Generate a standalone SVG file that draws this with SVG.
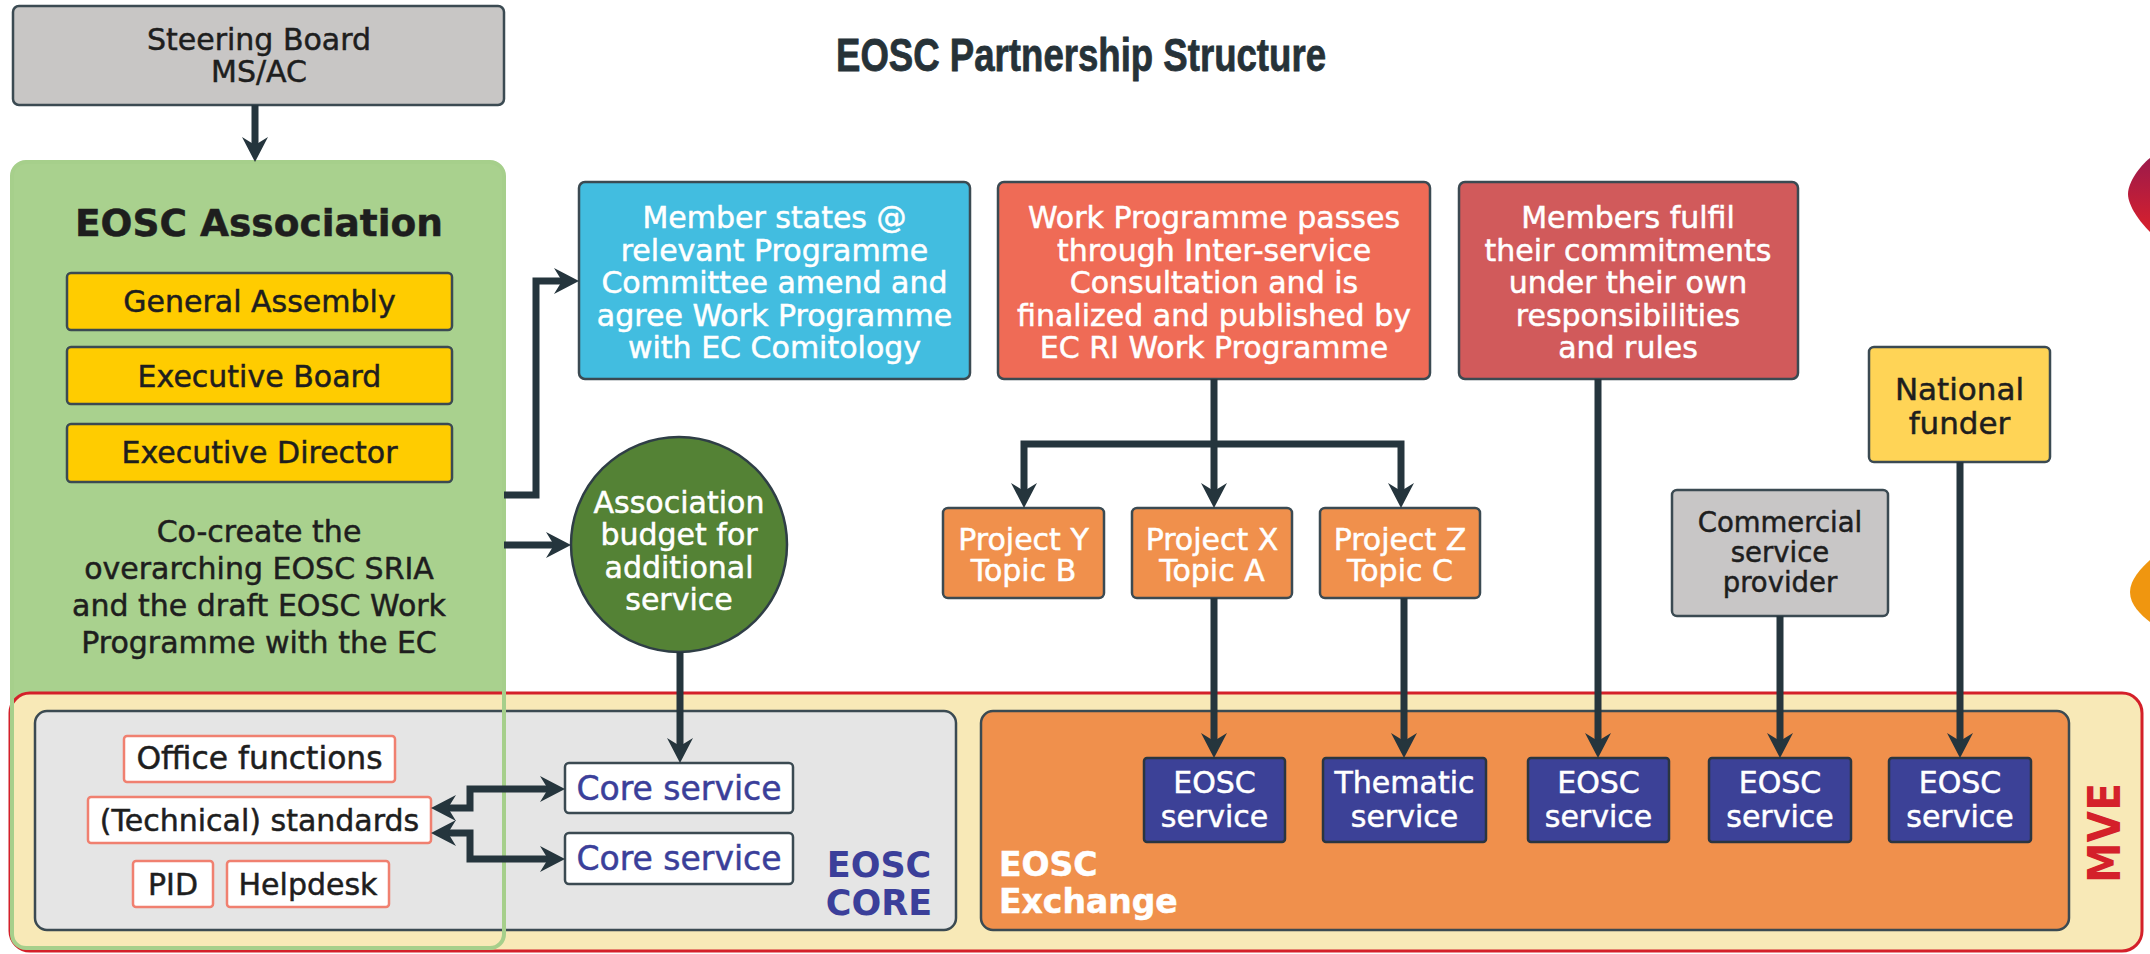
<svg xmlns="http://www.w3.org/2000/svg" width="2150" height="954" viewBox="0 0 2150 954" font-size="30">
<defs>
<style>
.t{font-family:'DejaVu Sans','Liberation Sans',sans-serif;text-anchor:middle}
.w{fill:#ffffff;stroke:#ffffff;stroke-width:0.5}
.d{fill:#1e1e1e;stroke:#1e1e1e;stroke-width:0.5}
.bd{font-weight:bold}
.box{stroke:#3b4a52;stroke-width:2.5}
.con{fill:none;stroke:#25353d;stroke-width:7;stroke-linejoin:miter}
.a1{marker-end:url(#ah)}
.a2{marker-start:url(#ah);marker-end:url(#ah)}
.lb{fill:#ffffff;stroke:#f08070;stroke-width:2.5}
.svc{fill:#3c4197;stroke:#2a3540;stroke-width:2.5}
.prj{fill:#f0904c;stroke:#3b4a52;stroke-width:2.5}
.bl{fill:#3b3f9a;stroke:#3b3f9a;stroke-width:0.5}
</style>
<marker id="ah" markerUnits="userSpaceOnUse" markerWidth="30" markerHeight="30" viewBox="0 0 30 30" refX="18" refY="15" orient="auto-start-reverse">
<path d="M1,2 L26,15 L1,28 L9,15 Z" fill="#25353d"/>
</marker>
<linearGradient id="crim" x1="0" y1="0" x2="0" y2="1">
<stop offset="0" stop-color="#9c1a4b"/>
<stop offset="1" stop-color="#d8202c"/>
</linearGradient>
</defs>
<rect width="2150" height="954" fill="#ffffff"/>

<text x="1081" y="71" font-family="'Liberation Sans',sans-serif" font-size="47" font-weight="bold" fill="#263238" stroke="#263238" stroke-width="0.8" text-anchor="middle" textLength="490" lengthAdjust="spacingAndGlyphs">EOSC Partnership Structure</text>

<path d="M2150,158 C2140,166 2128,182 2128,194 C2128,206 2140,222 2150,232 Z" fill="url(#crim)"/>
<path d="M2150,560 C2141,568 2130,580 2130,592 C2130,605 2141,615 2150,622 Z" fill="#f0960f"/>

<g id="eosc-association-bg">
<rect x="12" y="162" width="492" height="786" rx="14" fill="#a9d18e"/>
</g>

<g id="mve">
<rect x="10" y="693" width="2132" height="258" rx="20" fill="#f8e9b7" stroke="#d4202a" stroke-width="3"/>
<text x="2120" y="833" class="t bd" font-size="44" fill="#d4202a" transform="rotate(-90 2120 833)" textLength="100" lengthAdjust="spacingAndGlyphs">MVE</text>
</g>

<g id="eosc-core">
<rect x="35" y="711" width="921" height="219" rx="12" fill="#e5e5e5" class="box"/>
<text class="t bd" x="879" y="877" font-size="35" fill="#3b3f9a">EOSC</text>
<text class="t bd" x="879" y="915" font-size="35" fill="#3b3f9a">CORE</text>
</g>

<g id="eosc-exchange">
<rect x="981" y="711" width="1088" height="219" rx="12" fill="#f0904c" class="box"/>
<text class="t bd w" x="999" y="876" font-size="33" style="text-anchor:start">EOSC</text>
<text class="t bd w" x="999" y="913" font-size="33" style="text-anchor:start">Exchange</text>
</g>

<g id="eosc-association">
<rect x="12" y="162" width="492" height="786" rx="14" fill="none" stroke="#a6cf8b" stroke-width="4"/>
<text class="t bd d" x="259" y="236" font-size="37.5">EOSC Association</text>
<text class="t d" x="259" y="542">Co-create the</text>
<text class="t d" x="259" y="579">overarching EOSC SRIA</text>
<text class="t d" x="259" y="616">and the draft EOSC Work</text>
<text class="t d" x="259" y="653">Programme with the EC</text>
</g>

<g id="general-assembly">
<rect x="67" y="273" width="385" height="57" rx="4" fill="#ffcc00" class="box"/>
<text class="t d" x="259.5" y="312">General Assembly</text>
</g>
<g id="executive-board">
<rect x="67" y="347" width="385" height="57" rx="4" fill="#ffcc00" class="box"/>
<text class="t d" x="259.5" y="387">Executive Board</text>
</g>
<g id="executive-director">
<rect x="67" y="424" width="385" height="58" rx="4" fill="#ffcc00" class="box"/>
<text class="t d" x="259.5" y="463">Executive Director</text>
</g>

<g id="steering-board">
<rect x="13" y="6" width="491" height="99" rx="6" fill="#c8c6c5" class="box"/>
<text class="t d" x="259" y="50">Steering Board</text>
<text class="t d" x="259" y="82">MS/AC</text>
</g>

<g id="member-states">
<rect x="579" y="182" width="391" height="197" rx="6" fill="#42bde0" class="box"/>
<text class="t w" x="774.5" y="228">Member states @</text>
<text class="t w" x="774.5" y="260.5">relevant Programme</text>
<text class="t w" x="774.5" y="293">Committee amend and</text>
<text class="t w" x="774.5" y="325.5">agree Work Programme</text>
<text class="t w" x="774.5" y="358">with EC Comitology</text>
</g>

<g id="work-programme">
<rect x="998" y="182" width="432" height="197" rx="6" fill="#ef6b56" class="box"/>
<text class="t w" x="1214" y="228">Work Programme passes</text>
<text class="t w" x="1214" y="260.5">through Inter-service</text>
<text class="t w" x="1214" y="293">Consultation and is</text>
<text class="t w" x="1214" y="325.5">finalized and published by</text>
<text class="t w" x="1214" y="358">EC RI Work Programme</text>
</g>

<g id="members-fulfil">
<rect x="1459" y="182" width="339" height="197" rx="6" fill="#d15a5b" class="box"/>
<text class="t w" x="1628" y="228">Members fulfil</text>
<text class="t w" x="1628" y="260.5">their commitments</text>
<text class="t w" x="1628" y="293">under their own</text>
<text class="t w" x="1628" y="325.5">responsibilities</text>
<text class="t w" x="1628" y="358">and rules</text>
</g>

<g id="national-funder">
<rect x="1869" y="347" width="181" height="115" rx="5" fill="#ffd456" class="box"/>
<text class="t d" x="1959.5" y="400" font-size="31">National</text>
<text class="t d" x="1959.5" y="434" font-size="31">funder</text>
</g>

<g id="commercial-provider">
<rect x="1672" y="490" width="216" height="126" rx="5" fill="#c8c6c6" class="box"/>
<text class="t d" x="1780" y="532" font-size="27.5">Commercial</text>
<text class="t d" x="1780" y="562" font-size="27.5">service</text>
<text class="t d" x="1780" y="592" font-size="27.5">provider</text>
</g>

<g id="association-budget">
<ellipse cx="679" cy="544.5" rx="108" ry="107.5" fill="#548235" stroke="#2f3e46" stroke-width="2.5"/>
<text class="t w" x="679" y="513">Association</text>
<text class="t w" x="679" y="545">budget for</text>
<text class="t w" x="679" y="578">additional</text>
<text class="t w" x="679" y="610">service</text>
</g>

<g id="project-y">
<rect x="943" y="508" width="161" height="90" rx="5" class="prj"/>
<text class="t w" x="1023.5" y="550">Project Y</text>
<text class="t w" x="1023.5" y="581">Topic B</text>
</g>
<g id="project-x">
<rect x="1132" y="508" width="160" height="90" rx="5" class="prj"/>
<text class="t w" x="1212" y="550">Project X</text>
<text class="t w" x="1212" y="581">Topic A</text>
</g>
<g id="project-z">
<rect x="1320" y="508" width="160" height="90" rx="5" class="prj"/>
<text class="t w" x="1400" y="550">Project Z</text>
<text class="t w" x="1400" y="581">Topic C</text>
</g>

<g id="office-functions">
<rect x="124" y="736" width="271" height="46" rx="3" class="lb"/>
<text class="t d" x="259.5" y="769" font-size="31.4">Office functions</text>
</g>
<g id="technical-standards">
<rect x="88" y="797" width="343" height="46" rx="3" class="lb"/>
<text class="t d" x="259.5" y="831">(Technical) standards</text>
</g>
<g id="pid">
<rect x="133" y="861" width="80" height="46" rx="3" class="lb"/>
<text class="t d" x="173" y="895">PID</text>
</g>
<g id="helpdesk">
<rect x="227" y="861" width="162" height="46" rx="3" class="lb"/>
<text class="t d" x="308" y="895">Helpdesk</text>
</g>

<g id="core-service-1">
<rect x="565" y="763" width="228" height="50" rx="4" fill="#ffffff" class="box"/>
<text class="t bl" x="679" y="800" font-size="33">Core service</text>
</g>
<g id="core-service-2">
<rect x="565" y="833" width="228" height="51" rx="4" fill="#ffffff" class="box"/>
<text class="t bl" x="679" y="870" font-size="33">Core service</text>
</g>

<g id="eosc-service-1">
<rect x="1144" y="758" width="141" height="84" rx="3" class="svc"/>
<text class="t w" x="1214.5" y="793">EOSC</text>
<text class="t w" x="1214.5" y="827">service</text>
</g>
<g id="thematic-service">
<rect x="1323" y="758" width="163" height="84" rx="3" class="svc"/>
<text class="t w" x="1404.5" y="793">Thematic</text>
<text class="t w" x="1404.5" y="827">service</text>
</g>
<g id="eosc-service-3">
<rect x="1528" y="758" width="141" height="84" rx="3" class="svc"/>
<text class="t w" x="1598.5" y="793">EOSC</text>
<text class="t w" x="1598.5" y="827">service</text>
</g>
<g id="eosc-service-4">
<rect x="1709" y="758" width="142" height="84" rx="3" class="svc"/>
<text class="t w" x="1780" y="793">EOSC</text>
<text class="t w" x="1780" y="827">service</text>
</g>
<g id="eosc-service-5">
<rect x="1889" y="758" width="142" height="84" rx="3" class="svc"/>
<text class="t w" x="1960" y="793">EOSC</text>
<text class="t w" x="1960" y="827">service</text>
</g>

<g id="connectors">
<path class="con a1" d="M255,105 V154"/>
<path class="con a1" d="M504,495 H536 V281 H571"/>
<path class="con a1" d="M504,545 H563"/>
<path class="con a1" d="M680,652 V755"/>
<path class="con a1" d="M1214,379 V500"/>
<path class="con a2" d="M1024,500 V444 H1401 V500"/>
<path class="con a1" d="M1214,598 V750"/>
<path class="con a1" d="M1404,598 V750"/>
<path class="con a1" d="M1598,379 V750"/>
<path class="con a1" d="M1780,616 V750"/>
<path class="con a1" d="M1960,462 V750"/>
<path class="con a2" d="M439,808 H470 V789 H557"/>
<path class="con a2" d="M439,833 H470 V859 H557"/>
</g>
</svg>
